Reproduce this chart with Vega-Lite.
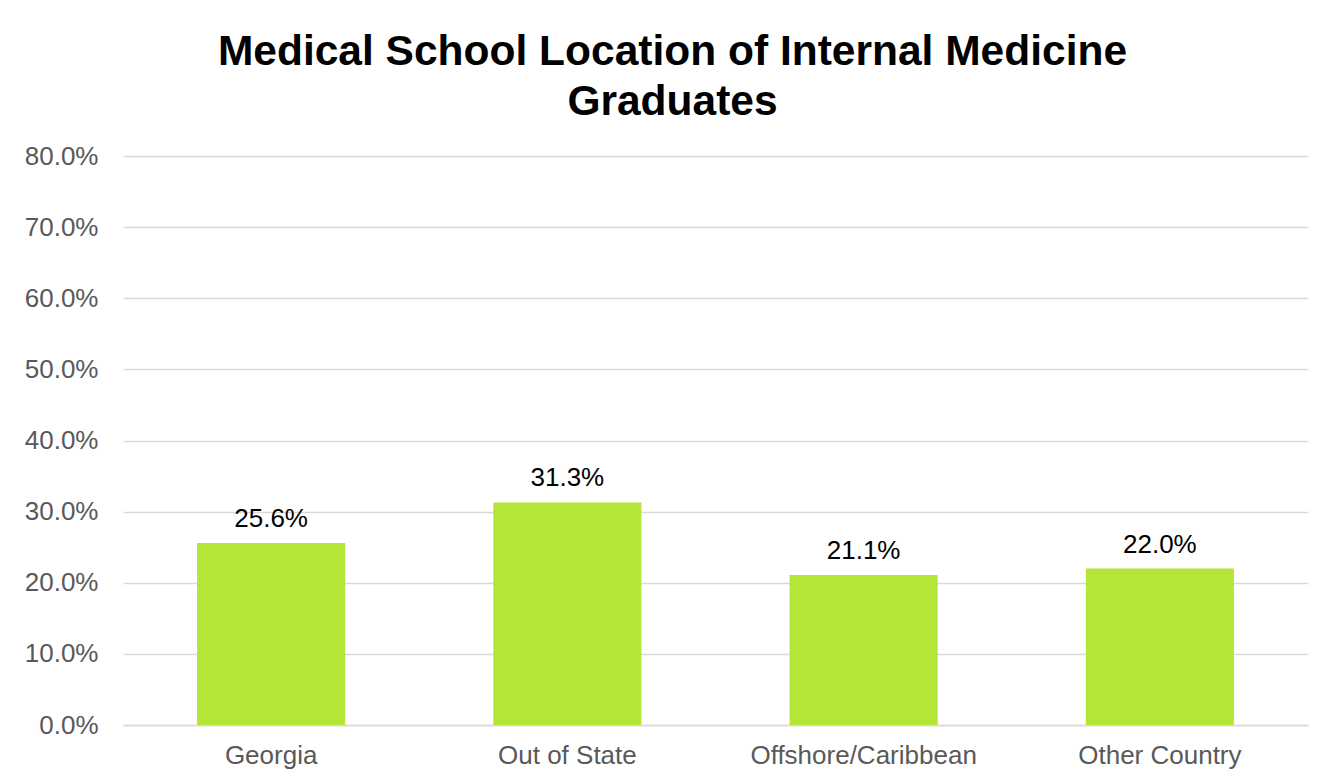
{
  "$schema": "https://vega.github.io/schema/vega-lite/v6.json",
  "width": 1185,
  "height": 569,
  "autosize": {"type": "none"},
  "padding": {"left": 123, "top": 156, "right": 36, "bottom": 59},
  "background": "white",
  "title": {
    "text": ["Medical School Location of Internal Medicine", "Graduates"],
    "font": "Liberation Sans",
    "fontSize": 42.5,
    "fontWeight": "bold",
    "color": "#000000",
    "anchor": "middle",
    "frame": "group",
    "dx": -43,
    "lineHeight": 50,
    "offset": 20
  },
  "data": {
    "values": [
      {"location": "Georgia", "share": 0.256},
      {"location": "Out of State", "share": 0.313},
      {"location": "Offshore/Caribbean", "share": 0.211},
      {"location": "Other Country", "share": 0.220}
    ]
  },
  "encoding": {
    "x": {
      "field": "location",
      "type": "nominal",
      "sort": null,
      "scale": {"paddingInner": 0.5, "paddingOuter": 0.25},
      "axis": {
        "title": null,
        "labelAngle": 0,
        "labelFont": "Liberation Sans",
        "labelFontSize": 26,
        "labelColor": "#595959",
        "labelPadding": 17,
        "labelLimit": 0,
        "labelOverlap": false,
        "ticks": false,
        "domainColor": "#d9d9d9",
        "domainWidth": 1.5,
        "grid": false
      }
    },
    "y": {
      "field": "share",
      "type": "quantitative",
      "scale": {"domain": [0, 0.8]},
      "axis": {
        "title": null,
        "format": ".1%",
        "values": [0, 0.1, 0.2, 0.3, 0.4, 0.5, 0.6, 0.7, 0.8],
        "labelOverlap": false,
        "labelFont": "Liberation Sans",
        "labelFontSize": 26,
        "labelColor": "#595959",
        "labelPadding": 25,
        "ticks": false,
        "domain": false,
        "gridColor": "#d9d9d9",
        "gridWidth": 1.5
      }
    }
  },
  "layer": [
    {"mark": {"type": "bar", "color": "#b3e637"}},
    {
      "mark": {
        "type": "text",
        "baseline": "bottom",
        "dy": -11,
        "font": "Liberation Sans",
        "fontSize": 26,
        "color": "#000000"
      },
      "encoding": {"text": {"field": "share", "type": "quantitative", "format": ".1%"}}
    }
  ],
  "config": {"view": {"stroke": null}}
}
